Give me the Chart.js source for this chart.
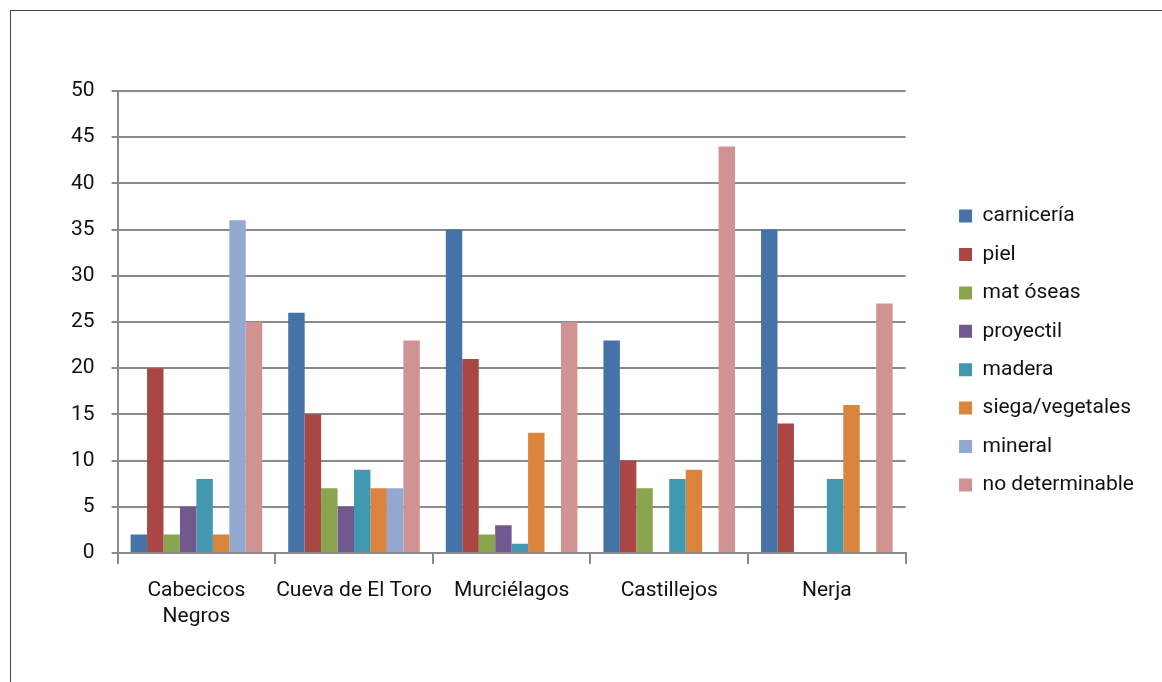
<!DOCTYPE html>
<html>
<head>
<meta charset="utf-8">
<script src="https://cdn.jsdelivr.net/npm/chart.js@4"></script>
<style>
  html, body { margin: 0; padding: 0; background: #fff; }
  #frame {
    position: absolute; left: 10px; top: 10px; width: 1200px; height: 700px;
    border-top: 1px solid #444; border-left: 1px solid #444;
  }
  #wrap { position: absolute; left: 0; top: 0; width: 1162px; height: 682px; }
</style>
</head>
<body>
<div id="frame"></div>
<div id="wrap"><canvas id="myChart" width="1162" height="682"></canvas></div>
<script>
// sitios
const categories = [['Cabecicos', 'Negros'], 'Cueva de El Toro', 'Murciélagos', 'Castillejos', 'Nerja'];

// valores por uso
const carniceria = [2, 26, 35, 23, 35];
const piel = [20, 15, 21, 10, 14];
const matOseas = [2, 7, 2, 7, 0];
const proyectil = [5, 5, 3, 0, 0];
const madera = [8, 9, 1, 8, 8];
const siega = [2, 7, 13, 9, 16];
const mineral = [36, 7, 0, 0, 0];
const noDeterminable = [25, 23, 25, 44, 27];

const yTicks = [0, 5, 10, 15, 20, 25, 30, 35, 40, 45, 50];

const gris = '#8a8a8a';
const fuente = { family: 'Roboto', size: 21, lineHeight: 1.24 };

function serie(label, values, color) {
    return {
        label: label,
        data: values,
        backgroundColor: color,
        borderWidth: 0,
        categoryPercentage: 0.835,
        barPercentage: 1.0
    };
}

const data = {
    labels: categories,
    datasets: [
        serie('carnicería', carniceria, '#4572a7'),
        serie('piel', piel, '#aa4643'),
        serie('mat óseas', matOseas, '#89a54e'),
        serie('proyectil', proyectil, '#71588f'),
        serie('madera', madera, '#4198af'),
        serie('siega/vegetales', siega, '#db843d'),
        serie('mineral', mineral, '#93a9cf'),
        serie('no determinable', noDeterminable, '#d19392')
    ]
};

// mueve la leyenda un poco a la derecha y arriba, como en el original
const moverLeyenda = {
    id: 'moverLeyenda',
    afterLayout(chart) {
        const lg = chart.legend;
        if (!lg) return;
        const dx = chart.chartArea.right + 36 - lg.left;
        const dy = -17;
        lg.left += dx; lg.right += dx;
        lg.top += dy; lg.bottom += dy;
    }
};

const config = {
    type: 'bar',
    data: data,
    plugins: [moverLeyenda],
    options: {
        responsive: false,
        animation: false,
        layout: { padding: { left: 54, top: 91, right: 54, bottom: 38 } },
        plugins: {
            tooltip: { enabled: false },
            legend: {
                position: 'right',
                labels: {
                    color: '#111',
                    font: fuente,
                    boxWidth: 13,
                    boxHeight: 13,
                    padding: 17.4
                }
            }
        },
        scales: {
            x: {
                offset: true,
                grid: {
                    offset: true,
                    drawOnChartArea: false,
                    drawTicks: true,
                    tickLength: 11,
                    color: gris,
                    lineWidth: 2
                },
                border: { display: true, color: gris, width: 2 },
                ticks: { color: '#111', font: fuente, padding: 14, maxRotation: 0, autoSkip: false }
            },
            y: {
                min: 0,
                max: 50,
                afterBuildTicks: function (axis) {
                    axis.ticks = yTicks.map(v => ({ value: v }));
                },
                grid: {
                    color: gris,
                    lineWidth: 2,
                    drawTicks: true,
                    tickLength: 6
                },
                border: { display: true, color: gris, width: 2 },
                ticks: { color: '#111', font: fuente, padding: 17 }
            }
        }
    }
};

var myChart = new Chart(document.getElementById('myChart'), config);
</script>
</body>
</html>
